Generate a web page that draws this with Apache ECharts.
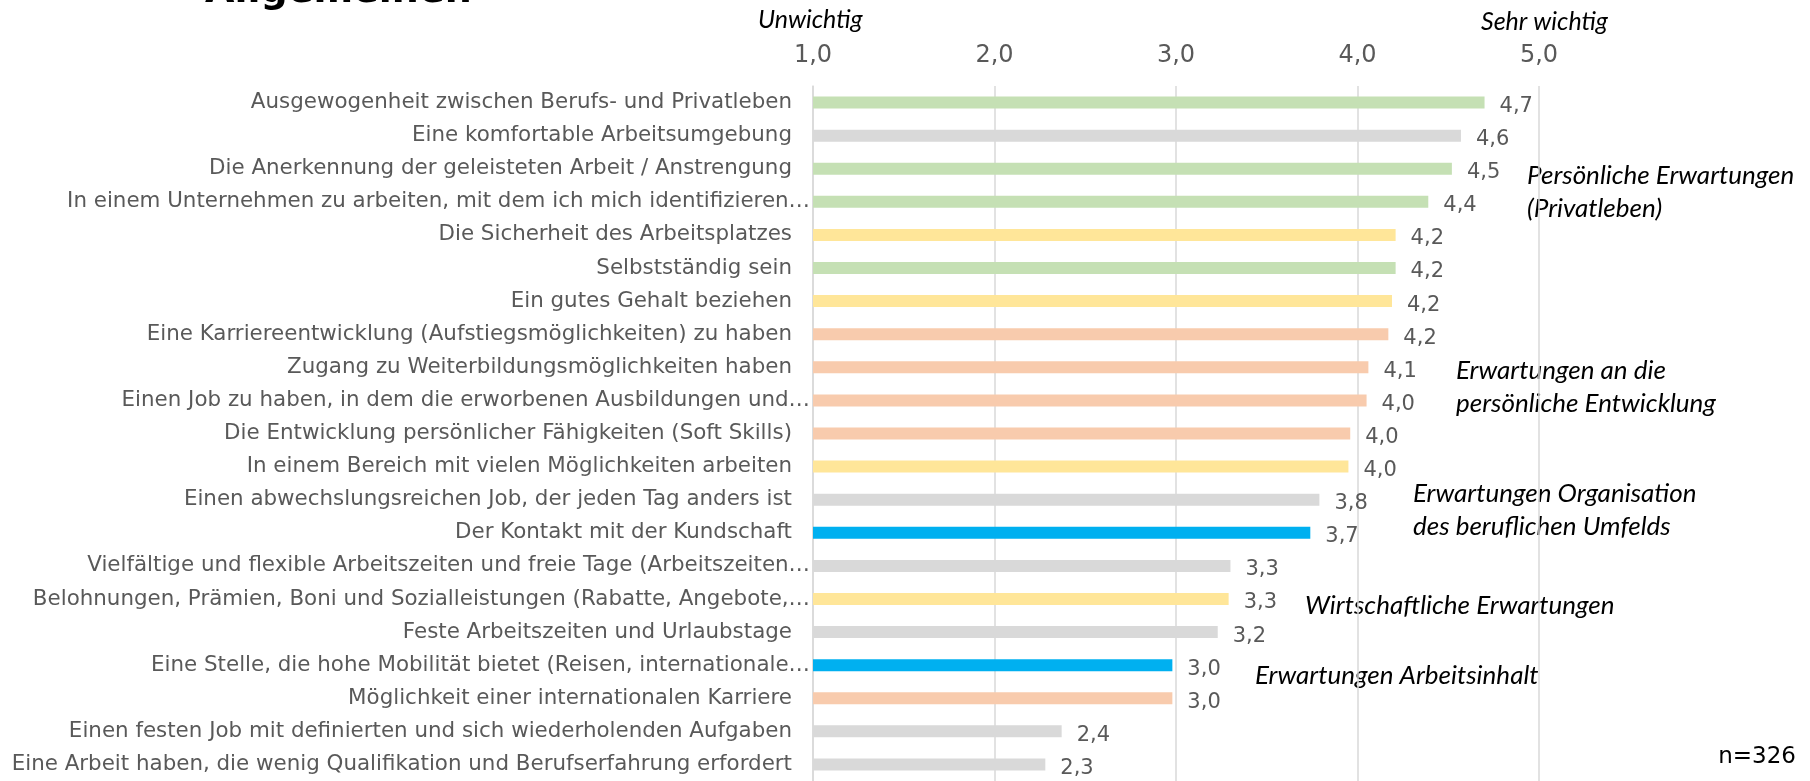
<!DOCTYPE html>
<html>
<head>
<meta charset="utf-8">
<script src="https://cdn.jsdelivr.net/npm/echarts@6/dist/echarts.min.js"></script>
<style>
  html, body { margin: 0; padding: 0; background: #fff; }
  #chart { width: 1810px; height: 781px; }
</style>
</head>
<body>
<div id="chart"></div>
<script>
// Kategorien (von oben nach unten)
const categories = [
  'Ausgewogenheit zwischen Berufs- und Privatleben',
  'Eine komfortable Arbeitsumgebung',
  'Die Anerkennung der geleisteten Arbeit / Anstrengung',
  'In einem Unternehmen zu arbeiten, mit dem ich mich identifizieren…',
  'Die Sicherheit des Arbeitsplatzes',
  'Selbstständig sein',
  'Ein gutes Gehalt beziehen',
  'Eine Karriereentwicklung (Aufstiegsmöglichkeiten) zu haben',
  'Zugang zu Weiterbildungsmöglichkeiten haben',
  'Einen Job zu haben, in dem die erworbenen Ausbildungen und…',
  'Die Entwicklung persönlicher Fähigkeiten (Soft Skills)',
  'In einem Bereich mit vielen Möglichkeiten arbeiten',
  'Einen abwechslungsreichen Job, der jeden Tag anders ist',
  'Der Kontakt mit der Kundschaft',
  'Vielfältige und flexible Arbeitszeiten und freie Tage (Arbeitszeiten…',
  'Belohnungen, Prämien, Boni und Sozialleistungen (Rabatte, Angebote,…',
  'Feste Arbeitszeiten und Urlaubstage',
  'Eine Stelle, die hohe Mobilität bietet (Reisen, internationale…',
  'Möglichkeit einer internationalen Karriere',
  'Einen festen Job mit definierten und sich wiederholenden Aufgaben',
  'Eine Arbeit haben, die wenig Qualifikation und Berufserfahrung erfordert'
]

// Mittelwerte (Skala 1 = unwichtig bis 5 = sehr wichtig)
const values = [4.70, 4.57, 4.52, 4.39, 4.21, 4.21, 4.19, 4.17, 4.06, 4.05, 3.96,
  3.95, 3.79, 3.74, 3.30, 3.29, 3.23, 2.98, 2.98, 2.37, 2.28]

// Gruppe jeder Aussage
const groups = ['privat', 'organisation', 'privat', 'privat', 'wirtschaft', 'privat',
  'wirtschaft', 'entwicklung', 'entwicklung', 'entwicklung', 'entwicklung',
  'wirtschaft', 'organisation', 'inhalt', 'organisation', 'wirtschaft',
  'organisation', 'inhalt', 'entwicklung', 'organisation', 'organisation']

const xTicks = [1, 2, 3, 4, 5]
const sampleSize = 326

const groupColors = {
  privat: '#C5E0B4',
  organisation: '#D9D9D9',
  wirtschaft: '#FFE699',
  entwicklung: '#F8CBAD',
  inhalt: '#00B0F0'
}

const fmt = v => v.toFixed(1).replace('.', ',')
const gray = '#595959'
const labelFont = 'DejaVu Sans, Verdana, sans-serif'
const noteFont = 'Lato, "Open Sans", sans-serif'

const chart = echarts.init(document.getElementById('chart'))

// Freie Texte (Titelrest, Skalenenden, Gruppenbeschriftungen, n)
const note = (text, x, y, extra) => ({
  type: 'text',
  left: x,
  top: y,
  style: Object.assign({
    text: text,
    fill: '#000',
    font: 'italic 26px ' + noteFont,
    lineHeight: 33
  }, extra || {})
})

const option = {
  animation: false,
  grid: {
    left: 813,
    top: 86,
    width: 726,
    height: 700,
    containLabel: false
  },
  xAxis: {
    type: 'value',
    position: 'top',
    min: xTicks[0],
    max: xTicks[xTicks.length - 1],
    interval: 1,
    axisLine: { show: false },
    axisTick: { show: false },
    axisLabel: {
      color: gray,
      fontFamily: labelFont,
      fontSize: 24,
      margin: 18,
      formatter: v => fmt(v)
    },
    splitLine: { lineStyle: { color: '#D9D9D9', width: 1.5 } }
  },
  yAxis: {
    type: 'category',
    inverse: true,
    data: categories,
    axisLine: { show: true, lineStyle: { color: '#D9D9D9', width: 1.5 } },
    axisTick: { show: false },
    axisLabel: {
      margin: 3,
      interval: 0,
      formatter: v => (v.endsWith('…') ? '{e|' + v + '}' : '{n|' + v + '}'),
      rich: {
        n: { color: gray, fontFamily: labelFont, fontSize: 21.4, padding: [0, 18, 0, 0] },
        e: { color: gray, fontFamily: labelFont, fontSize: 21.4 }
      }
    }
  },
  series: [
    {
      type: 'bar',
      barWidth: 12,
      data: values.map((v, i) => ({
        value: v,
        itemStyle: { color: groupColors[groups[i]] }
      })),
      label: {
        show: true,
        position: 'right',
        distance: 15,
        offset: [0, 4],
        color: gray,
        fontFamily: labelFont,
        fontSize: 21,
        formatter: p => fmt(p.value)
      }
    }
  ],
  graphic: [
    {
      type: 'text',
      left: 205,
      top: -27,
      style: { text: 'Allgemeinen', fill: '#000', font: 'bold 38px "DejaVu Sans", Verdana, sans-serif' }
    },
    note('Unwichtig', 758, 3, { font: 'italic 25px ' + noteFont }),
    note('Sehr wichtig', 1481, 5, { font: 'italic 25px ' + noteFont }),
    note('Persönliche Erwartungen\n(Privatleben)', 1527, 159),
    note('Erwartungen an die\npersönliche Entwicklung', 1456, 354),
    note('Erwartungen Organisation\ndes beruflichen Umfelds', 1413, 477),
    note('Wirtschaftliche Erwartungen', 1305, 589),
    note('Erwartungen Arbeitsinhalt', 1255, 659),
    {
      type: 'text',
      right: 14,
      top: 746,
      style: { text: 'n=' + sampleSize, fill: '#000', font: '23px ' + labelFont }
    }
  ]
}

chart.setOption(option)
</script>
</body>
</html>
